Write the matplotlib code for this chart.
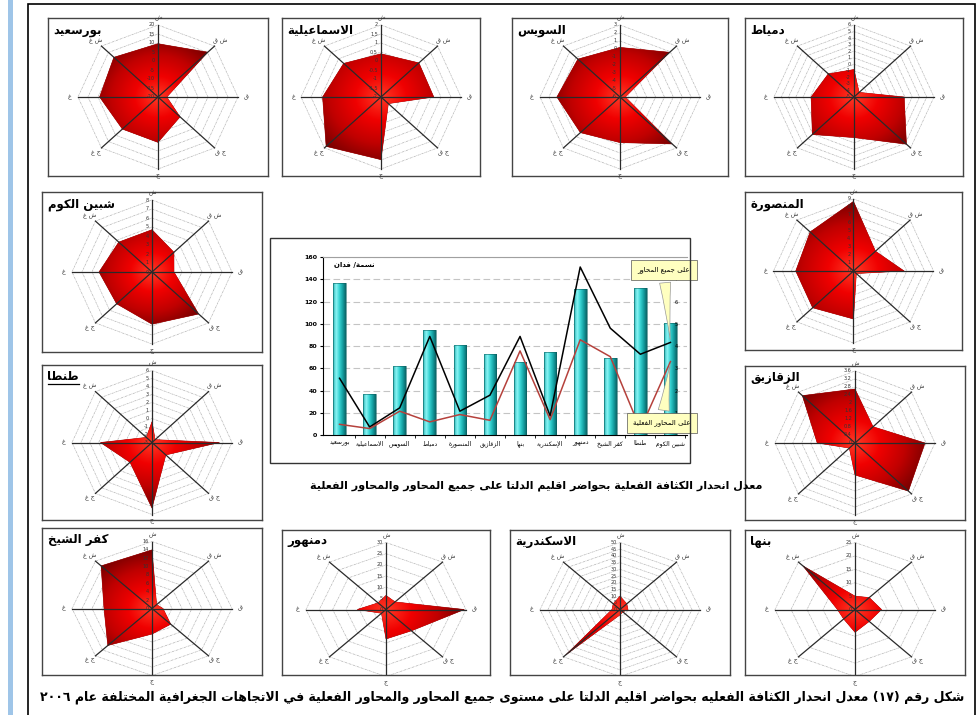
import re
import numpy as np
import matplotlib
matplotlib.use('Agg')
import matplotlib.pyplot as plt
from matplotlib.colors import LinearSegmentedColormap
from matplotlib.patches import Polygon, Rectangle
from matplotlib.lines import Line2D

plt.rcParams['font.family'] = ['DejaVu Sans']

# ---------------- data ----------------
directions = ['ش', 'ش ق', 'ق', 'ج ق', 'ج', 'ج غ', 'غ', 'ش غ']

# values per direction: N, NE, E, SE, S, SW, W, NW
port_said = [9.6, 15.2, -15.6, -4.4, 5.2, 5.2, 9.2, 11.2]
ismailia = [0.4, 0.68, 0.64, -1.48, 1.48, 1.88, 0.92, 0.64]
suez = [0.2, 1.9, -5.4, 2.3, -0.3, 0.3, 1.1, 0.7]
damietta = [-0.8, -4.0, 1.9, 5.2, 1.2, 3.1, 0.9, 0.0]
shebin = [4.7, 3.1, 2.2, 6.6, 5.8, 5.0, 5.3, 4.7]
mansoura = [8.7, 3.5, 5.7, 0.45, 6.0, 6.5, 6.5, 6.9]
tanta = [-0.4, -2.5, 4.6, -0.8, 5.2, 0.5, 2.8, -2.1]
zagazig = [2.7, 1.15, 3.15, 3.4, 1.6, 0.36, 1.7, 3.35]
kafr_elsheikh = [14.0, 1.3, 2.2, 5.3, 6.1, 12.5, 9.6, 14.4]
damanhour = [6.3, 4.8, 29.4, 13.5, 13.2, 2.4, 10.8, 4.2]
alexandria = [10, 6, 5, 2.5, 4, 48, 5, 6]
benha = [5, 6.3, 8.3, 6.3, 8.5, 5, 5.5, 23]

radar_cities = ['بورسعيد', 'الاسماعيلية', 'السويس', 'دمياط', 'شبين الكوم', 'المنصورة',
                'طنطا', 'الزقازيق', 'كفر الشيخ', 'دمنهور', 'الاسكندرية', 'بنها']
radar_values = [port_said, ismailia, suez, damietta, shebin, mansoura,
                tanta, zagazig, kafr_elsheikh, damanhour, alexandria, benha]
radar_scales = [(-20, 20, 5), (-2, 2, 0.5), (-6, 3, 1), (-5, 6, 1), (0, 8, 1), (0, 9, 1),
                (-3, 6, 1), (0, 3.6, 0.4), (0, 16, 2), (0, 30, 5), (0, 50, 5), (0, 25, 5)]
underlined_titles = ['طنطا']

bar_cities = ['بورسعيد', 'الاسماعيلية', 'السويس', 'دمياط', 'المنصورة', 'الزقازيق',
              'بنها', 'الإسكندرية', 'دمنهور', 'كفر الشيخ', 'طنطا', 'شبين الكوم']
density = [137, 37, 62, 94, 81, 73, 66, 75, 131, 69, 132, 101]
slope_all = [2.55, 0.36, 1.22, 4.43, 1.07, 1.79, 4.43, 0.86, 7.55, 4.8, 3.63, 4.16]
slope_actual = [0.48, 0.29, 1.07, 0.59, 0.92, 0.66, 3.78, 0.69, 4.28, 3.52, 0.26, 3.3]

# ---------------- layout (pixels) ----------------
W, H = 979, 715
panel_boxes = [(48, 18, 268, 176), (282, 18, 480, 176), (512, 18, 728, 176), (745, 18, 963, 176),
               (42, 192, 262, 352), (745, 192, 962, 350),
               (42, 365, 262, 520), (745, 366, 965, 520),
               (42, 528, 262, 675), (282, 530, 490, 675), (510, 530, 730, 675), (745, 530, 965, 675)]


def rect(x0, y0, x1, y1):
    return [x0 / W, 1 - y1 / H, (x1 - x0) / W, (y1 - y0) / H]


# ---------------- arabic shaping ----------------
FORMS = {
    'ا': ('\ufe8d', '\ufe8e', None, None), 'أ': ('\ufe83', '\ufe84', None, None),
    'إ': ('\ufe87', '\ufe88', None, None), 'آ': ('\ufe81', '\ufe82', None, None),
    'ب': ('\ufe8f', '\ufe90', '\ufe91', '\ufe92'), 'ة': ('\ufe93', '\ufe94', None, None),
    'ت': ('\ufe95', '\ufe96', '\ufe97', '\ufe98'), 'ث': ('\ufe99', '\ufe9a', '\ufe9b', '\ufe9c'),
    'ج': ('\ufe9d', '\ufe9e', '\ufe9f', '\ufea0'), 'ح': ('\ufea1', '\ufea2', '\ufea3', '\ufea4'),
    'خ': ('\ufea5', '\ufea6', '\ufea7', '\ufea8'), 'د': ('\ufea9', '\ufeaa', None, None),
    'ذ': ('\ufeab', '\ufeac', None, None), 'ر': ('\ufead', '\ufeae', None, None),
    'ز': ('\ufeaf', '\ufeb0', None, None), 'س': ('\ufeb1', '\ufeb2', '\ufeb3', '\ufeb4'),
    'ش': ('\ufeb5', '\ufeb6', '\ufeb7', '\ufeb8'), 'ص': ('\ufeb9', '\ufeba', '\ufebb', '\ufebc'),
    'ض': ('\ufebd', '\ufebe', '\ufebf', '\ufec0'), 'ط': ('\ufec1', '\ufec2', '\ufec3', '\ufec4'),
    'ظ': ('\ufec5', '\ufec6', '\ufec7', '\ufec8'), 'ع': ('\ufec9', '\ufeca', '\ufecb', '\ufecc'),
    'غ': ('\ufecd', '\ufece', '\ufecf', '\ufed0'), 'ف': ('\ufed1', '\ufed2', '\ufed3', '\ufed4'),
    'ق': ('\ufed5', '\ufed6', '\ufed7', '\ufed8'), 'ك': ('\ufed9', '\ufeda', '\ufedb', '\ufedc'),
    'ل': ('\ufedd', '\ufede', '\ufedf', '\ufee0'), 'م': ('\ufee1', '\ufee2', '\ufee3', '\ufee4'),
    'ن': ('\ufee5', '\ufee6', '\ufee7', '\ufee8'), 'ه': ('\ufee9', '\ufeea', '\ufeeb', '\ufeec'),
    'و': ('\ufeed', '\ufeee', None, None), 'ى': ('\ufeef', '\ufef0', None, None),
    'ي': ('\ufef1', '\ufef2', '\ufef3', '\ufef4'),
}
LAM_ALEF = {'ا': ('\ufefb', '\ufefc'), 'أ': ('\ufef7', '\ufef8'),
            'إ': ('\ufef9', '\ufefa'), 'آ': ('\ufef5', '\ufef6')}
MIRROR = str.maketrans('()', ')(')


def shape(text):
    out, i, n = [], 0, len(text)
    while i < n:
        c = text[i]
        if c not in FORMS:
            out.append(c)
            i += 1
            continue
        prev = text[i - 1] if i > 0 else ''
        prev_joins = prev in FORMS and FORMS[prev][2] is not None
        if c == 'ل' and i + 1 < n and text[i + 1] in LAM_ALEF:
            iso, fin = LAM_ALEF[text[i + 1]]
            out.append(fin if prev_joins else iso)
            i += 2
            continue
        nxt = text[i + 1] if i + 1 < n else ''
        iso, fin, ini, med = FORMS[c]
        joins_next = ini is not None and nxt in FORMS
        if prev_joins and joins_next:
            out.append(med)
        elif prev_joins:
            out.append(fin)
        elif joins_next:
            out.append(ini)
        else:
            out.append(iso)
        i += 1
    return ''.join(out)


def rtl(text):
    runs = re.findall(r'[0-9\u0660-\u0669]+|[^0-9\u0660-\u0669]+', shape(text))
    out = []
    for r in reversed(runs):
        out.append(r if r[0].isdigit() else r[::-1].translate(MIRROR))
    return ''.join(out)


# ---------------- figure ----------------
fig = plt.figure(figsize=(W / 100, H / 100), dpi=100)
fig.patch.set_facecolor('white')

fig.add_artist(Rectangle((8 / W, 0), 5 / W, 1, transform=fig.transFigure,
                         color='#9fc5e8', lw=0))
fig.add_artist(Rectangle((28 / W, -0.05), (975 - 28) / W, 1.05 - 4 / H,
                         transform=fig.transFigure, fill=False, ec='black', lw=1.2))

angles = np.deg2rad(90 - 45 * np.arange(8))
ux, uy = np.cos(angles), np.sin(angles)
red_cmap = LinearSegmentedColormap.from_list(
    'red3d', ['#ff3a26', '#f00000', '#c00000', '#760000'])
title_texts = []


def draw_radar(box, name, values, scale, dy):
    x0, y0, x1, y1 = box
    cx, cy = (x0 + x1) / 2, (y0 + y1) / 2 + dy
    rx, ry = 80, 72 if dy == 0 else 67
    ax = fig.add_axes(rect(*box))
    ax.set_xlim(-(cx - x0) / rx, (x1 - cx) / rx)
    ax.set_ylim(-(y1 - cy) / ry, (cy - y0) / ry)
    ax.set_autoscale_on(False)
    ax.set_xticks([])
    ax.set_yticks([])
    for s in ax.spines.values():
        s.set_color('#444444')
        s.set_linewidth(1.0)

    lo, hi, step = scale
    ticks = np.arange(lo, hi + step / 2, step)
    for lv in ticks[1:]:
        f = (lv - lo) / (hi - lo)
        ax.add_patch(Polygon(np.c_[f * ux, f * uy], closed=True, fill=False,
                             ec='#b4b4b4', lw=0.5, ls=(0, (3, 1, 1, 1)), zorder=1))

    f = (np.array(values) - lo) / (hi - lo)
    poly = Polygon(np.c_[f * ux, f * uy], closed=True, fc='#e00000',
                   ec='#8a0000', lw=0.4, zorder=2)
    ax.add_patch(poly)
    xl, yl = ax.get_xlim(), ax.get_ylim()
    gx, gy = np.meshgrid(np.linspace(*xl, 200), np.linspace(*yl, 200))
    d = np.clip(np.hypot(gx, gy) / f.max(), 0, 1)
    img = ax.imshow(d, extent=[*xl, *yl], origin='lower', cmap=red_cmap, vmin=0, vmax=1,
                    aspect='auto', interpolation='bilinear', zorder=2.1)
    img.set_clip_path(poly)

    for a in angles:
        ax.plot([0, np.cos(a)], [0, np.sin(a)], color='#2a2a2a', lw=0.9, zorder=3)
    for lv in ticks:
        ax.text(-0.04, (lv - lo) / (hi - lo), f'{lv:g}', fontsize=3.5, ha='right',
                va='center', color='#333333', zorder=4)
    for a, lab in zip(angles, directions):
        ax.text(1.1 * np.cos(a), 1.1 * np.sin(a), rtl(lab), fontsize=4.5, ha='center',
                va='center', color='#333333', clip_on=False, zorder=4)
    t = ax.text(0.025, 0.965, rtl(name), transform=ax.transAxes, ha='left', va='top',
                fontsize=8.5, fontweight='bold', zorder=5)
    if name in underlined_titles:
        title_texts.append(t)


for k, (box, name, vals, sc) in enumerate(zip(panel_boxes, radar_cities, radar_values, radar_scales)):
    draw_radar(box, name, vals, sc, 7 if k >= 8 else 0)

# ---------------- central bar chart ----------------
fig.add_artist(Rectangle((270 / W, 1 - 463 / H), 420 / W, 225 / H, transform=fig.transFigure,
                         fill=False, ec='#333333', lw=1.0))

bx = fig.add_axes(rect(323, 257, 687, 435))
x = np.arange(len(bar_cities))
cyl_cmap = LinearSegmentedColormap.from_list(
    'cyl', ['#2bb5b5', '#8af5f5', '#35d2d2', '#14a0a2', '#0b6466'])
bars = bx.bar(x, density, width=0.42, color='none', ec='#0a6060', lw=0.4, zorder=3)
grad = np.linspace(0, 1, 64).reshape(1, -1)
for b in bars:
    im = bx.imshow(grad, extent=[b.get_x(), b.get_x() + b.get_width(), 0, b.get_height()],
                   aspect='auto', cmap=cyl_cmap, zorder=2)
    im.set_clip_path(b)
bx.set_xlim(-0.55, 11.55)
bx.set_ylim(0, 160)
bx.set_yticks(np.arange(0, 161, 20))
bx.tick_params(axis='y', labelsize=4.5, length=2, pad=2)
for t in bx.get_yticklabels():
    t.set_fontweight('bold')
bx.set_xticks(x)
bx.set_xticklabels([rtl(c) for c in bar_cities], fontsize=4.3)
bx.tick_params(axis='x', length=0, pad=4)
bx.set_xticks(x + 0.5, minor=True)
bx.tick_params(axis='x', which='minor', length=2)
bx.yaxis.grid(True, ls=(0, (6, 3)), color='#c4c4c4', lw=0.8)
bx.set_axisbelow(True)
bx.spines['top'].set_color('#a0a0a0')
bx.spines['right'].set_visible(False)
for s in ('left', 'bottom'):
    bx.spines[s].set_color('black')
    bx.spines[s].set_linewidth(0.8)
bx.text(0.03, 0.97, rtl('نسمة/ فدان'), transform=bx.transAxes, fontsize=5,
        fontweight='bold', ha='left', va='top')

ax2 = bx.twinx()
ax2.set_ylim(0, 8)
ax2.plot(x, slope_all, color='black', lw=1.1, zorder=4)
ax2.plot(x, slope_actual, color='#b5413c', lw=1.1, zorder=4)
ax2.set_yticks(np.arange(1, 8))
ax2.tick_params(axis='y', length=0, labelsize=3.5, pad=-9)
for s in ax2.spines.values():
    s.set_visible(False)

callout_box = dict(boxstyle='square,pad=0.9', fc='#ffffc0', ec='#555555', lw=0.5)
callout_arrow = dict(arrowstyle='wedge,tail_width=1.6,shrink_factor=0.4', fc='#ffffc0',
                     ec='#999999', lw=0.5)
ax2.annotate(rtl('على جميع المحاور'), xy=(11, slope_all[-1]),
             xytext=(664 / W, 1 - 270 / H), textcoords='figure fraction',
             fontsize=5, ha='center', va='center', zorder=6,
             bbox=callout_box, arrowprops=callout_arrow)
ax2.annotate(rtl('على المحاور الفعلية'), xy=(11, slope_actual[-1]),
             xytext=(662 / W, 1 - 423 / H), textcoords='figure fraction',
             fontsize=5, ha='center', va='center', zorder=6,
             bbox=callout_box, arrowprops=callout_arrow)

# ---------------- captions ----------------
fig.text(536 / W, 1 - 486 / H,
         rtl('معدل انحدار الكثافة الفعلية بحواضر اقليم الدلتا على جميع المحاور والمحاور الفعلية'),
         ha='center', va='center', fontsize=8, fontweight='bold')
fig.text(502 / W, 1 - 697 / H,
         rtl('شكل رقم (١٧) معدل انحدار الكثافة الفعليه بحواضر اقليم الدلتا على مستوى جميع '
             'المحاور والمحاور الفعلية في الاتجاهات الجغرافية المختلفة عام ٢٠٠٦'),
         ha='center', va='center', fontsize=9, fontweight='bold')

# underline marked panel titles
fig.canvas.draw()
inv = fig.transFigure.inverted()
for t in title_texts:
    bb = t.get_window_extent()
    (ax0, ay0), (ax1, _) = inv.transform([(bb.x0, bb.y0 - 1), (bb.x1, bb.y0)])
    fig.add_artist(Line2D([ax0, ax1], [ay0, ay0], transform=fig.transFigure,
                          color='black', lw=0.9))

fig.savefig('out.png', dpi=100)
